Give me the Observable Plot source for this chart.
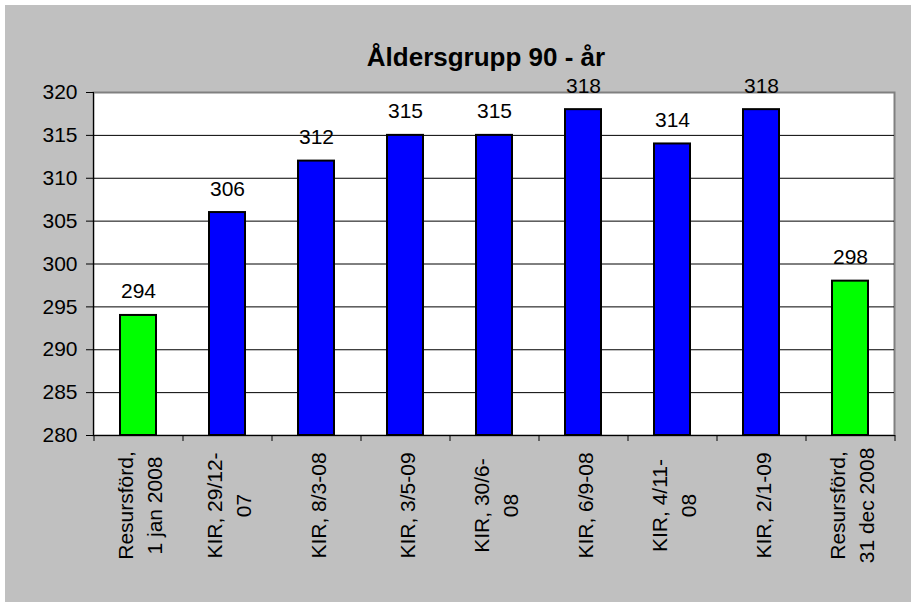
<!DOCTYPE html>
<html>
<head>
<meta charset="utf-8">
<script src="https://cdn.jsdelivr.net/npm/d3@7"></script>
<script src="https://cdn.jsdelivr.net/npm/@observablehq/plot@0.6"></script>
<style>
  html, body { margin: 0; padding: 0; background: #ffffff; }
  #wrap { position: relative; width: 911px; height: 602px; overflow: hidden; }
  #bg { position: absolute; left: 5px; top: 5px; width: 906px; height: 597px; background: #c0c0c0; }
  #title { position: absolute; left: 0; width: 972px; top: 42px; text-align: center;
           font: bold 26px "Liberation Sans", Arial, sans-serif; color: #000; }
  #chart { position: absolute; left: 0; top: 0; }
</style>
</head>
<body>
<div id="wrap">
  <div id="bg"></div>
  <div id="title">Åldersgrupp 90 - år</div>
  <div id="chart"></div>
</div>
<script>
const categories = [
  "Resursförd,\n1 jan 2008",
  "KIR, 29/12-\n07",
  "KIR, 8/3-08",
  "KIR, 3/5-09",
  "KIR, 30/6-\n08",
  "KIR, 6/9-08",
  "KIR, 4/11-\n08",
  "KIR, 2/1-09",
  "Resursförd,\n31 dec 2008"
];
const values = [294, 306, 312, 315, 315, 318, 314, 318, 298];
const kinds = ["Resursförd", "KIR", "KIR", "KIR", "KIR", "KIR", "KIR", "KIR", "Resursförd"];
const yTicks = [280, 285, 290, 295, 300, 305, 310, 315, 320];
const gridValues = [285, 290, 295, 300, 305, 310, 315];

const data = categories.map((c, i) => ({cat: c, value: values[i], kind: kinds[i]}));

const step = (911 - 93 - 17) / categories.length;

const chart = Plot.plot({
  width: 911,
  height: 602,
  marginLeft: 93,
  marginRight: 17,
  marginTop: 92,
  marginBottom: 167,
  style: {background: "transparent", fontFamily: "'Liberation Sans', Arial, sans-serif", fontSize: "21px", color: "#000"},
  x: {domain: categories, paddingInner: 0.6, paddingOuter: 0.3},
  y: {domain: [280, 320]},
  color: {domain: ["Resursförd", "KIR"], range: ["#00ff00", "#0000ff"]},
  marks: [
    Plot.frame({fill: "white", stroke: "#808080", strokeWidth: 2}),
    Plot.ruleY(gridValues, {stroke: "black", strokeWidth: 1}),
    Plot.barY(data, {x: "cat", y1: 280, y2: "value", fill: "kind", stroke: "black", strokeWidth: 2}),
    Plot.text(data, {x: "cat", y: "value", text: d => String(d.value), dy: -17, lineAnchor: "bottom", fontSize: 21, fill: "black"}),
    Plot.frame({anchor: "left", stroke: "black", strokeWidth: 1}),
    Plot.frame({anchor: "bottom", stroke: "black", strokeWidth: 1}),
    Plot.axisY({ticks: yTicks, tickSize: 7, tickPadding: 9, label: null, fontSize: 21, stroke: "black"}),
    Plot.axisX({tickSize: 6, tickFormat: () => "", dx: -step / 2, label: null, stroke: "black"}),
    Plot.axisX({ticks: [categories[categories.length - 1]], tickSize: 6, tickFormat: () => "", dx: step / 2, label: null, stroke: "black"}),
    Plot.text(categories, {x: d => d, text: d => d, frameAnchor: "bottom", dy: 70, rotate: -90, textAnchor: "middle", lineAnchor: "middle", lineHeight: 1.35, fontSize: 21, fill: "black"})
  ]
});
document.getElementById("chart").appendChild(chart);
</script>
</body>
</html>
